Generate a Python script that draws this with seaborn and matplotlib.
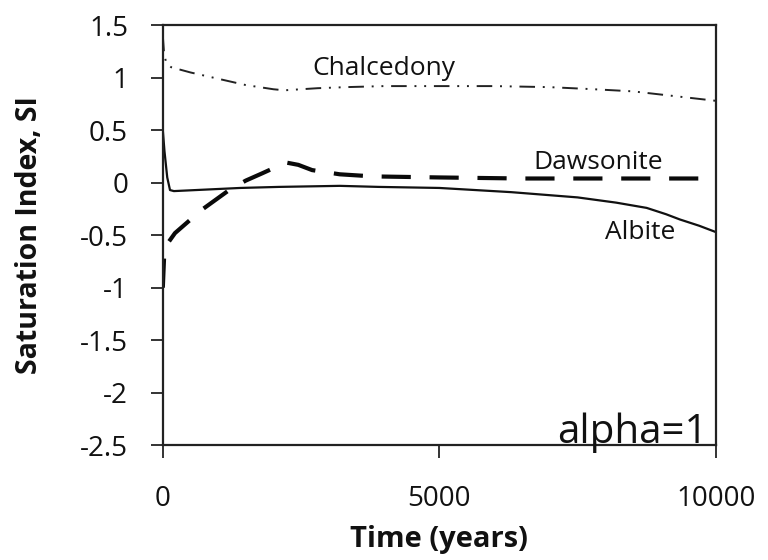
import matplotlib
matplotlib.use("Agg")
import matplotlib.pyplot as plt
import seaborn as sns
import pandas as pd

# Saturation index of three minerals over time (years)
chalcedony_t = [0, 20, 60, 150, 500, 1000, 1500, 2000, 2200, 2500, 2800, 3300, 4000,
                5000, 6000, 7000, 7800, 8500, 9000, 9500, 10000]
chalcedony_si = [1.40, 1.25, 1.14, 1.10, 1.05, 0.99, 0.93, 0.89, 0.88, 0.89, 0.90, 0.91, 0.92,
                 0.92, 0.92, 0.91, 0.89, 0.87, 0.84, 0.81, 0.78]

albite_t = [0, 30, 80, 130, 200, 600, 1400, 2100, 3200, 3900, 5000, 6300, 7500,
            8200, 8750, 9100, 9350, 9700, 10000]
albite_si = [0.50, 0.30, 0.05, -0.07, -0.08, -0.07, -0.05, -0.04, -0.03, -0.04, -0.05, -0.09, -0.14,
             -0.19, -0.24, -0.30, -0.35, -0.41, -0.47]

dawsonite_t = [0, 30, 220, 700, 1200, 1500, 1800, 2050, 2250, 2450, 2700, 3200, 3800,
               5000, 6500, 8000, 10000]
dawsonite_si = [-1.00, -0.62, -0.48, -0.26, -0.07, 0.02, 0.09, 0.15, 0.19, 0.17, 0.12, 0.08, 0.06,
                0.05, 0.04, 0.04, 0.04]

labels = {"Chalcedony": (4000, 1.09), "Dawsonite": (7880, 0.19), "Albite": (8640, -0.47)}

x_ticks = [0, 5000, 10000]
y_ticks = [1.5, 1, 0.5, 0, -0.5, -1, -1.5, -2, -2.5]
y_tick_labels = ["1.5", "1", "0.5", "0", "-0.5", "-1", "-1.5", "-2", "-2.5"]

sns.set_style("ticks")
plt.rcParams["font.family"] = ["Open Sans", "DejaVu Sans"]

fig = plt.figure(figsize=(7.68, 5.6), dpi=100)
ax = fig.add_axes([0.212, 0.205, 0.72, 0.75])

chal = pd.DataFrame({"t": chalcedony_t, "si": chalcedony_si})
alb = pd.DataFrame({"t": albite_t, "si": albite_si})
daw = pd.DataFrame({"t": dawsonite_t, "si": dawsonite_si})

sns.lineplot(data=chal, x="t", y="si", ax=ax, color="#222222", lw=1.4,
             linestyle=(0, (8, 4, 1, 4, 1, 4)))
sns.lineplot(data=alb, x="t", y="si", ax=ax, color="#111111", lw=1.6)
sns.lineplot(data=daw, x="t", y="si", ax=ax, color="#0a0a0a", lw=3.0,
             linestyle=(0, (7, 4.5)))

for name, (tx, ty) in labels.items():
    ax.text(tx, ty, name, fontsize=19, ha="center", va="center", color="#111111")
ax.text(8500, -2.38, "alpha=1", fontsize=29, ha="center", va="center", color="#111111")

ax.set_xlim(0, 10000)
ax.set_ylim(-2.5, 1.5)
ax.set_xticks(x_ticks)
ax.set_xticklabels([str(v) for v in x_ticks])
ax.set_yticks(y_ticks)
ax.set_yticklabels(y_tick_labels)
ax.tick_params(axis="both", direction="out", length=9, width=1.2, labelsize=20, colors="#111111")
ax.tick_params(axis="x", pad=20)
ax.tick_params(axis="y", pad=16)

ax.set_xlabel("Time (years)", fontsize=21, fontweight="bold", labelpad=0, color="#111111")
ax.set_ylabel("Saturation Index, SI", fontsize=20.5, fontweight="bold", labelpad=4, color="#111111")
ax.xaxis.set_label_coords(0.5, -0.19)
ax.yaxis.set_label_coords(-0.215, 0.5)

for side in ["top", "right", "bottom", "left"]:
    ax.spines[side].set_visible(True)
    ax.spines[side].set_linewidth(1.6)
    ax.spines[side].set_color("#222222")

fig.savefig("out.png", dpi=100)
